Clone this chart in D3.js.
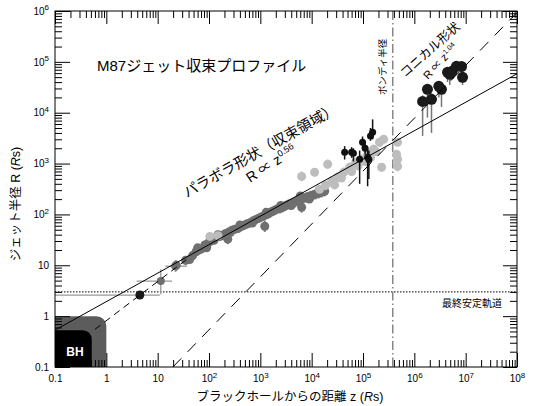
<!DOCTYPE html>
<html><head><meta charset="utf-8">
<script src="https://cdn.jsdelivr.net/npm/d3@7"></script>
<style>
body{margin:0;background:#fff}
text{font-family:"Liberation Sans",Arial,"Noto Sans CJK JP",sans-serif}
</style>
</head><body><div id="chart"></div>
<script>
// tick values
const xTicks = [0.1, 1, 10, 1e2, 1e3, 1e4, 1e5, 1e6, 1e7, 1e8];
const yTicks = [0.1, 1, 10, 1e2, 1e3, 1e4, 1e5, 1e6];

// [z, R, Rlow, Rhigh]
const parabolaDark = [
 [23,10,7.6,12.5],[35,12.5,10,15],[42,13,11,16],[48,15.5,12.5,18],[56,18.5,15,22],[63,20,17,24],
 [72,21,18,25],[83,25,21,30],[95,27,23,33],[108,30,25,36],[125,31,26,37],[142,36,30,43],
 [165,37,31,44],[185,39,32,48],[210,42,35,50],[243,45,37,54],[280,49,41,58],[318,51,42,62],
 [365,53,44,64],[415,57,47,70],[480,61,50,74],[543,65,53,80],[620,68,56,84],[711,74,60,90],
 [810,79,64,98],[930,84,68,104],[1070,90,73,112],[1220,96,76,120],[1400,102,82,128],[1590,110,88,138],
 [1820,118,94,148],[2080,126,100,158],[2400,131,104,166],[2730,138,110,175],[3100,148,118,186],
 [3570,158,126,198],[4100,165,131,210],[4670,174,138,220],[5300,188,150,236],[6110,199,158,250],
 [7000,208,165,262],[8000,218,172,276],[9200,228,180,290],[10450,238,188,300],[12000,250,198,316],
 [13700,261,206,330],[15800,274,216,346],[17900,286,226,362],
 [60,22,19,26],[90,22,19,26],[150,40,34,46],[260,44,38,52],[400,62,52,72],[700,68,58,80],
 [1300,110,92,130],[2500,150,125,180],[4000,150,125,185],[6000,230,190,270],[9000,200,170,240],[14000,300,250,350],
 [232,32.6,26,40],[1220,58.6,45,76],[6380,138,108,172]
];
const parabolaLight = [
 [104,37,33,41],[150,38,34,42],
 [6380,560,450,700],[11400,675,560,820],[20500,970,800,1200],[230000,846,700,1000],
 [14300,313,260,370],[18700,375,300,460],[24500,449,360,560],[32000,538,430,680],[42000,675,540,840],
 [54900,846,680,1050],[71800,1060,850,1300],[94000,1210,980,1500],[123000,1520,1220,1900],
 [161000,1910,1550,2350],[210000,2620,2100,3200],[252000,3000,2500,3600],
 [28000,380,320,450],[38000,520,440,600],[60000,700,600,820],[80000,900,760,1050],
 [110000,1100,930,1300],[140000,1300,1100,1550],[180000,1700,1450,2000],
 [471000,2620,2200,3100],[451000,1520,1250,1800],[471000,1210,1000,1450],[471000,885,700,1050]
];
const bondiBlack = [
 [43900,1670,1200,2200],[60000,1670,1300,2100],[65000,1600,1100,2000],[86000,1210,400,1800],
 [98000,2620,2000,3400],[123000,1330,358,1900],[154000,4120,3000,7400],[140000,3500,2800,5000],
 [110000,2000,1500,2600],[130000,1200,500,1800]
];
const conicalBlack = [
 [1.45e6,16700,3500,22000],[1.8e6,28800,8000,36000],[2.16e6,18300,4000,24000],[3.38e6,28800,13000,36000],
 [3.0e6,33000,20000,40000],[4.43e6,62200,40000,75000],[4.9e6,57000,35000,70000],[5.5e6,66000,50000,80000],
 [6.6e6,81700,65000,100000],[8.3e6,81000,60000,100000],[8.7e6,49600,35000,60000]
];
// [z, R, zLow, zHigh, Rlow, Rhigh]
const innerPts = [
 [4.5,2.6,0.1,11,2.6,2.6],
 [11.5,4.9,3.9,19,2.7,8.4],
 [22,9.6,14,37,7.4,12.5]
];

// fits and reference radii
const fitParabola = {k:1.93, p:0.56, from:0.1, to:1e8};
const fitConical = {k:0.1/Math.pow(19.8,1.04), p:1.04, from:19.8, to:1e8};
const fitInner = [[0.6,0.55],[40,13.9]];
const isco = 3;
const bondi = 3.8e5;

const W = 536, H = 406;
const svg = d3.select('#chart').append('svg').attr('width', W).attr('height', H);
const x = d3.scaleLog([0.1, 1e8], [55, 517]);
const y = d3.scaleLog([0.1, 1e6], [367, 11]);

svg.append('clipPath').attr('id','clip').append('rect')
  .attr('x',55).attr('y',11).attr('width',462).attr('height',356);
const plot = svg.append('g').attr('clip-path','url(#clip)');

// BH boxes
plot.append('rect').attr('x', x(0.1)-20).attr('y', y(1)).attr('width', x(1)-x(0.1)+20).attr('height', 80)
  .attr('rx', 10).attr('fill', '#5c5c5c');
plot.append('rect').attr('x', x(0.1)-20).attr('y', y(0.53)).attr('width', x(0.52)-x(0.1)+20).attr('height', 80)
  .attr('rx', 9).attr('fill', '#000');

const minorOf = ticks => { const out = []; ticks.slice(0,-1).forEach(t => { for (let k=2;k<10;k++) out.push(t*k); }); return out; };
const minorX = minorOf(xTicks), minorY = minorOf(yTicks);

function fmt(g){
  g.select('.domain').remove();
  g.selectAll('.tick text').each(function(d){
    const t = d3.select(this);
    const e = Math.round(Math.log10(d));
    if (e >= 2) { t.text('10'); t.append('tspan').attr('dy','-0.55em').attr('font-size',8).text(e); }
    else t.text(String(d));
  });
}
const axes = svg.append('g').attr('font-size',12);
axes.append('g').attr('transform','translate(0,367)').call(d3.axisBottom(x).tickValues(xTicks).tickSize(-14).tickPadding(8)).call(fmt);
axes.append('g').attr('transform','translate(0,367)').call(d3.axisBottom(x).tickValues(minorX).tickSize(-7).tickFormat('')).call(g=>g.select('.domain').remove());
axes.append('g').attr('transform','translate(0,11)').call(d3.axisTop(x).tickValues(xTicks).tickSize(-13).tickFormat('')).call(g=>g.select('.domain').remove());
axes.append('g').attr('transform','translate(0,11)').call(d3.axisTop(x).tickValues(minorX).tickSize(-7).tickFormat('')).call(g=>g.select('.domain').remove());
axes.append('g').attr('transform','translate(55,0)').call(d3.axisLeft(y).tickValues(yTicks).tickSize(-15).tickPadding(6)).call(fmt);
axes.append('g').attr('transform','translate(55,0)').call(d3.axisLeft(y).tickValues(minorY).tickSize(-7).tickFormat('')).call(g=>g.select('.domain').remove());
axes.append('g').attr('transform','translate(517,0)').call(d3.axisRight(y).tickValues(yTicks).tickSize(-14).tickFormat('')).call(g=>g.select('.domain').remove());
axes.append('g').attr('transform','translate(517,0)').call(d3.axisRight(y).tickValues(minorY).tickSize(-7).tickFormat('')).call(g=>g.select('.domain').remove());
axes.selectAll('.tick text').attr('fill','#000').attr('font-family','"Liberation Sans",Arial,sans-serif');
axes.selectAll('.tick line').attr('stroke','#000');
svg.append('rect').attr('x',55).attr('y',11).attr('width',462).attr('height',356)
  .attr('fill','none').attr('stroke','#000').attr('stroke-width',1);

// reference lines
plot.append('line').attr('x1',55).attr('x2',517).attr('y1',y(isco)).attr('y2',y(isco))
  .attr('stroke','#000').attr('stroke-dasharray','1.5 1.5').attr('stroke-width',1);
plot.append('line').attr('x1',x(bondi)).attr('x2',x(bondi)).attr('y1',11).attr('y2',367)
  .attr('stroke','#888').attr('stroke-width',1.5).attr('stroke-dasharray','9 3 1.5 3');

// data
function drawPts(data, fill, r, errColor, errW){
  const g = plot.append('g');
  g.selectAll('line').data(data).join('line')
    .attr('x1', d=>x(d[0])).attr('x2', d=>x(d[0])).attr('y1', d=>y(d[2])).attr('y2', d=>y(d[3]))
    .attr('stroke', errColor).attr('stroke-width', errW);
  g.selectAll('circle').data(data).join('circle')
    .attr('cx', d=>x(d[0])).attr('cy', d=>y(d[1])).attr('r', r).attr('fill', fill);
}
// inner points with x error bars
const ig = plot.append('g');
innerPts.forEach((d,i)=>{
  ig.append('line').attr('x1',x(d[2])).attr('x2',x(d[3])).attr('y1',y(d[1])).attr('y2',y(d[1])).attr('stroke','#999').attr('stroke-width',1.3);
  ig.append('line').attr('x1',x(d[0])).attr('x2',x(d[0])).attr('y1',y(d[4])).attr('y2',y(d[5])).attr('stroke','#999').attr('stroke-width',1.3);
});
ig.selectAll('circle').data(innerPts).join('circle').attr('cx',d=>x(d[0])).attr('cy',d=>y(d[1]))
  .attr('r',(d,i)=> i===0 ? 4.5 : 4).attr('fill',(d,i)=> i===0 ? '#1a1a1a' : '#6f6f6f');

drawPts(parabolaDark, '#6f6f6f', 4.5, '#888', 2);
drawPts(parabolaLight, '#bdbdbd', 4.5, '#c8c8c8', 2);
drawPts(bondiBlack, '#111', 3.5, '#111', 1.5);
drawPts(conicalBlack, '#1a1a1a', 5.5, '#777', 1.5);

// fit lines
const line = d3.line().x(d=>x(d[0])).y(d=>y(d[1]));
const powerLine = f => [[f.from, f.k*Math.pow(f.from,f.p)], [f.to, f.k*Math.pow(f.to,f.p)]];
plot.append('path').attr('d', line(powerLine(fitParabola))).attr('fill','none').attr('stroke','#000').attr('stroke-width',1);
plot.append('path').attr('d', line(powerLine(fitConical))).attr('fill','none').attr('stroke','#000').attr('stroke-width',1).attr('stroke-dasharray','12 9');
plot.append('path').attr('d', line(fitInner)).attr('fill','none').attr('stroke','#000').attr('stroke-width',1).attr('stroke-dasharray','7 5');

// texts
svg.append('text').attr('x',97).attr('y',71).attr('font-size',15).text('M87ジェット収束プロファイル');
svg.append('text').attr('transform','translate(187,198) rotate(-29.5)').attr('font-size',14.5).text('パラボラ形状（収束領域）');
const t1 = svg.append('text').attr('transform','translate(250,183) rotate(-33)').attr('font-size',14);
t1.append('tspan').text('R ∝ z');
t1.append('tspan').attr('dy','-0.6em').attr('font-size',9).text('0.56');
svg.append('text').attr('transform','translate(405,78) rotate(-42)').attr('font-size',12.5).text('コニカル形状');
const t2 = svg.append('text').attr('transform','translate(428,80) rotate(-47)').attr('font-size',11);
t2.append('tspan').text('R ∝ z');
t2.append('tspan').attr('dy','-0.6em').attr('font-size',7).text('1.04');
svg.append('text').attr('transform','translate(386,95) rotate(-90)').attr('font-size',9.5).text('ボンディ半径');
svg.append('text').attr('x',442).attr('y',307).attr('font-size',10).text('最終安定軌道');
svg.append('text').attr('x',75).attr('y',356).attr('font-size',12).attr('font-weight','bold').attr('fill','#fff')
  .attr('text-anchor','middle').text('BH');

// axis titles
const xt = svg.append('text').attr('x',290).attr('y',401).attr('font-size',12.5).attr('text-anchor','middle');
xt.append('tspan').text('ブラックホールからの距離  z (');
xt.append('tspan').attr('font-style','italic').text('R');
xt.append('tspan').text('s)');
const yt = svg.append('text').attr('transform','translate(20,204) rotate(-90)').attr('font-size',12.5).attr('text-anchor','middle');
yt.append('tspan').text('ジェット半径 R (');
yt.append('tspan').attr('font-style','italic').text('R');
yt.append('tspan').text('s)');
</script></body></html>
